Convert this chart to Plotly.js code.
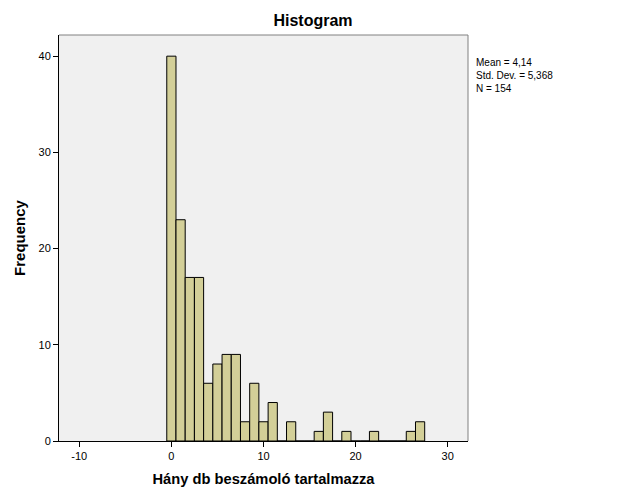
<!DOCTYPE html>
<html>
<head>
<meta charset="utf-8">
<script src="https://cdn.plot.ly/plotly-3.0.1.min.js"></script>
<style>html,body{margin:0;padding:0;background:#fff;}#chart{width:626px;height:501px;}</style>
</head>
<body>
<div id="chart"></div>
<script>
const binCenters = [0,1,2,3,4,5,6,7,8,9,10,11,12,13,14,15,16,17,18,19,20,21,22,23,24,25,26,27];
const frequencies = [40,23,17,17,6,8,9,9,2,6,2,4,0,2,0,0,1,3,0,1,0,0,1,0,0,0,1,2];
const statsLines = ["Mean = 4,14", "Std. Dev. = 5,368", "N = 154"];
const chartTitle = "Histogram";
const xTitle = "Hány db beszámoló tartalmazza";
const yTitle = "Frequency";

const FONT = "Liberation Sans, Arial, sans-serif";

const trace = {
  type: "bar",
  x: binCenters,
  y: frequencies,
  width: 1,
  marker: {color: "#D3CF98", line: {color: "#000", width: 1}},
  hoverinfo: "x+y"
};

const layout = {
  width: 626, height: 501,
  margin: {l: 58.5, r: 157.5, t: 34.5, b: 60, pad: 0},
  paper_bgcolor: "#fff",
  plot_bgcolor: "#F0F0F0",
  showlegend: false,
  bargap: 0,
  font: {family: FONT, size: 11, color: "#000"},
  title: {text: "<b>" + chartTitle + "</b>", x: 0.5, xref: "container", xanchor: "center", y: 0.96, yref: "container", yanchor: "middle", font: {family: FONT, size: 16, color: "#000"}},
  xaxis: {
    range: [-12.2, 32.2], tickvals: [-10, 0, 10, 20, 30], ticktext: ["-10", "0", "10", "20", "30"],
    ticks: "outside", ticklen: 5, tickcolor: "#000", tickwidth: 1,
    showline: true, linecolor: "#000", linewidth: 1, showgrid: false, zeroline: false,
    tickfont: {family: FONT, size: 11, color: "#000"},
    title: {text: "<b>" + xTitle + "</b>", font: {family: FONT, size: 14.7, color: "#000"}, standoff: 12}
  },
  yaxis: {
    range: [0, 42.2], tickvals: [0, 10, 20, 30, 40],
    ticks: "outside", ticklen: 5, tickcolor: "#000", tickwidth: 1,
    showline: true, linecolor: "#000", linewidth: 1, showgrid: false, zeroline: false,
    tickfont: {family: FONT, size: 11, color: "#000"},
    title: {text: "<b>" + yTitle + "</b>", font: {family: FONT, size: 15, color: "#000"}, standoff: 9}
  },
  shapes: [
    {type: "line", xref: "paper", yref: "paper", x0: 0, x1: 1, y0: 1, y1: 1, line: {color: "#808080", width: 1}},
    {type: "line", xref: "paper", yref: "paper", x0: 1, x1: 1, y0: 0, y1: 1, line: {color: "#808080", width: 1}}
  ],
  annotations: [{
    xref: "paper", yref: "paper", x: 1.015, y: 0.95, xanchor: "left", yanchor: "top", align: "left",
    showarrow: false, text: statsLines.join("<br>"),
    font: {family: FONT, size: 10, color: "#000"}
  }]
};

Plotly.newPlot("chart", [trace], layout, {displayModeBar: false, staticPlot: true});
</script>
</body>
</html>
